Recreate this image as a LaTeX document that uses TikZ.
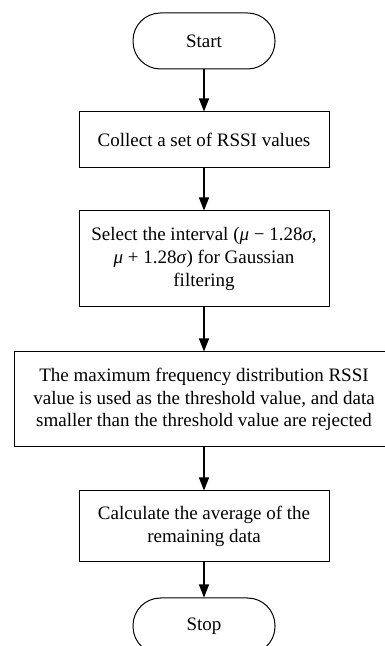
\documentclass[tikz,border=0pt]{standalone}
\usepackage{fontspec}
\setmainfont{Liberation Serif}
\usetikzlibrary{arrows.meta}

\begin{document}
\begin{tikzpicture}[x=1pt,y=1pt,
  terminal/.style={
    draw, line width=1pt, rounded corners=27.5pt,
    minimum width=142pt, minimum height=56pt, inner sep=0pt
  },
  procbox/.style={
    draw, line width=1pt, align=center, inner sep=0pt,
    minimum width=250pt, minimum height=56pt
  },
  arrow/.style={-{Triangle[length=13pt,width=10pt]}, line width=1.2pt},
  every node/.style={font=\fontsize{19}{22.8}\selectfont}
]
  \useasboundingbox (0,0) rectangle (385,646);
  \clip (0,0) rectangle (385,646);

  \node[terminal] (start) at (204,605) {Start};
  \node[procbox] (collect) at (204,506) {Collect a set of RSSI values};
  \node[procbox, minimum height=96pt] (select) at (204,387)
    {Select the interval (\textit{μ} − 1.28\textit{σ},\\
     \textit{μ} + 1.28\textit{σ}) for Gaussian\\ filtering};
  \node[procbox, minimum width=380pt, minimum height=95pt] (reject) at (204,246.5)
    {The maximum frequency distribution RSSI\\
     value is used as the threshold value, and data\\
     smaller than the threshold value are rejected};
  \node[procbox, minimum height=71pt] (average) at (204,119.5)
    {Calculate the average of the\\ remaining data};
  \node[terminal] (stop) at (204,20) {Stop};

  \foreach \from/\to in {start/collect, collect/select, select/reject,
                         reject/average, average/stop}
    \draw[arrow] (\from.south) -- (\to.north);
\end{tikzpicture}
\end{document}
